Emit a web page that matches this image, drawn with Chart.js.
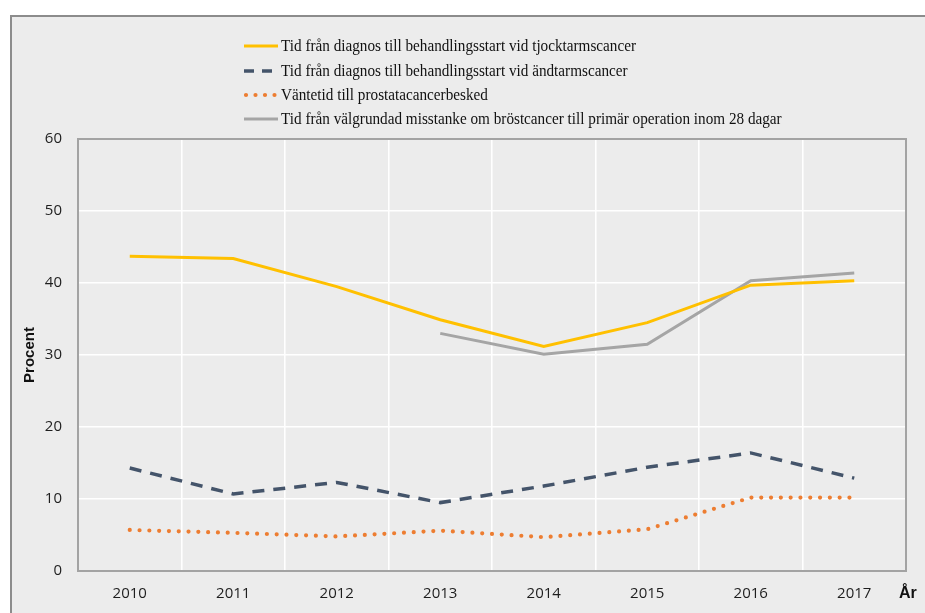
<!DOCTYPE html>
<html>
<head>
<meta charset="utf-8">
<script src="https://cdn.jsdelivr.net/npm/chart.js@4/dist/chart.umd.min.js"></script>
<style>
  html, body { margin: 0; padding: 0; background: #ffffff; }
  #wrap { position: relative; width: 925px; height: 613px; }
</style>
</head>
<body>
<div id="wrap"><canvas id="c" width="925" height="613"></canvas></div>
<script>
// ---- Data ----
const years = ['2010', '2011', '2012', '2013', '2014', '2015', '2016', '2017'];
const tjocktarm = [43.7, 43.4, 39.5, 34.9, 31.2, 34.5, 39.7, 40.3];
const andtarm = [14.3, 10.7, 12.3, 9.5, 11.8, 14.4, 16.4, 12.9];
const prostata = [5.7, 5.3, 4.8, 5.6, 4.7, 5.8, 10.2, 10.2];
const brost = [null, null, null, 33.0, 30.1, 31.5, 40.3, 41.4];
const seriesLabels = [
  'Tid från diagnos till behandlingsstart vid tjocktarmscancer',
  'Tid från diagnos till behandlingsstart vid ändtarmscancer',
  'Väntetid till prostatacancerbesked',
  'Tid från välgrundad misstanke om bröstcancer till primär operation inom 28 dagar'
];
const yTicks = [0, 10, 20, 30, 40, 50, 60];
const yTitle = 'Procent';
const xTitle = 'År';

const BG = '#ececec';

const framePlugin = {
  id: 'frame',
  beforeDraw(chart) {
    const ctx = chart.ctx;
    ctx.save();
    ctx.fillStyle = '#ffffff';
    ctx.fillRect(0, 0, chart.width, chart.height);
    ctx.fillStyle = BG;
    ctx.fillRect(10, 15, chart.width - 10, chart.height - 15);
    ctx.strokeStyle = '#8c8c8c';
    ctx.lineWidth = 2;
    ctx.beginPath();
    ctx.moveTo(11, chart.height);
    ctx.lineTo(11, 16);
    ctx.lineTo(chart.width, 16);
    ctx.stroke();
    ctx.restore();
  },
  beforeDatasetsDraw(chart) {
    const ctx = chart.ctx;
    const a = chart.chartArea;
    ctx.save();
    ctx.strokeStyle = '#a3a3a3';
    ctx.lineWidth = 2;
    ctx.strokeRect(a.left, a.top, a.right - a.left, a.bottom - a.top);
    ctx.restore();
  },
  afterDraw(chart) {
    const ctx = chart.ctx;
    ctx.save();
    // Legend (one item per row)
    const rowsY = [46, 71, 95, 119];
    ctx.font = '17px "Liberation Serif", "Times New Roman", serif';
    const targetW = 355;
    const natW = ctx.measureText(chart.data.datasets[0].label).width;
    const sx = targetW / natW;
    chart.data.datasets.forEach((ds, i) => {
      const y = rowsY[i];
      ctx.save();
      ctx.strokeStyle = ds.borderColor;
      ctx.lineWidth = ds.borderWidth;
      ctx.lineCap = ds.borderCapStyle || 'butt';
      ctx.setLineDash(ds.legendDash || []);
      ctx.beginPath();
      ctx.moveTo(ds.legendStart || 244, y);
      ctx.lineTo(278, y);
      ctx.stroke();
      ctx.restore();
      ctx.save();
      ctx.translate(281, y);
      ctx.scale(sx, 1);
      ctx.fillStyle = '#111111';
      ctx.textBaseline = 'middle';
      ctx.textAlign = 'left';
      ctx.fillText(ds.label, 0, 1);
      ctx.restore();
    });
    // Axis title "År"
    ctx.font = 'bold 16px "Liberation Sans", Arial, sans-serif';
    ctx.fillStyle = '#111111';
    ctx.textAlign = 'left';
    ctx.textBaseline = 'middle';
    ctx.fillText(xTitle, 899, 594);
    ctx.restore();
  }
};

const tickFont = { family: '"Open Sans", sans-serif', size: 15 };

new Chart(document.getElementById('c'), {
  type: 'line',
  data: {
    labels: years,
    datasets: [
      {
        label: seriesLabels[0], data: tjocktarm,
        borderColor: '#FFC000', borderWidth: 3, pointRadius: 0, tension: 0
      },
      {
        label: seriesLabels[1], data: andtarm,
        borderColor: '#44546A', borderWidth: 3.5, borderDash: [12, 9], pointRadius: 0, tension: 0,
        legendDash: [10, 8], legendStart: 244
      },
      {
        label: seriesLabels[2], data: prostata,
        borderColor: '#ED7D31', borderWidth: 4.2, borderDash: [0, 9.8], borderCapStyle: 'round',
        pointRadius: 0, tension: 0, legendDash: [0, 9.5], legendStart: 246
      },
      {
        label: seriesLabels[3], data: brost,
        borderColor: '#A5A5A5', borderWidth: 3, pointRadius: 0, tension: 0, spanGaps: false
      }
    ]
  },
  options: {
    responsive: false,
    animation: false,
    devicePixelRatio: 1,
    layout: { padding: { top: 139, right: 19, bottom: 0, left: 0 } },
    plugins: { legend: { display: false }, tooltip: { enabled: false } },
    scales: {
      x: {
        type: 'category',
        offset: true,
        grid: { offset: true, color: '#ffffff', lineWidth: 1.6, drawTicks: false },
        border: { display: false },
        ticks: { color: '#1e1e1e', font: tickFont, padding: 14, maxRotation: 0 },
        afterFit(scale) { scale.height = 42; }
      },
      y: {
        min: 0, max: 60,
        afterBuildTicks(scale) { scale.ticks = yTicks.map(v => ({ value: v })); },
        grid: { color: '#ffffff', lineWidth: 1.6, drawTicks: false },
        border: { display: false },
        ticks: { color: '#1e1e1e', font: tickFont, padding: 16 },
        title: {
          display: true, text: yTitle, color: '#111111',
          font: { family: '"Liberation Sans", Arial, sans-serif', size: 15, weight: 'bold' },
          padding: { top: 21, bottom: 0 }
        },
        afterFit(scale) { scale.width = 78; }
      }
    }
  },
  plugins: [framePlugin]
});
</script>
</body>
</html>
